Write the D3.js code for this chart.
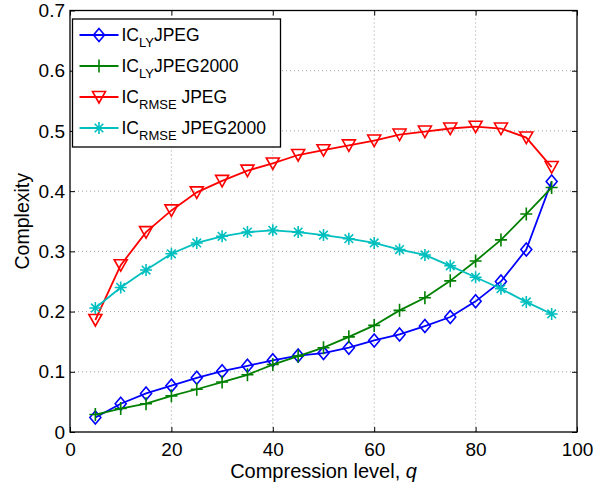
<!DOCTYPE html>
<html>
<head>
<meta charset="utf-8">
<script src="https://cdn.jsdelivr.net/npm/d3@7"></script>
<style>
  body { margin: 0; background: #fff; }
  text { font-family: "Liberation Sans", Arial, Helvetica, sans-serif; }
</style>
</head>
<body>
<svg id="chart" width="616" height="486"></svg>
<script>
// compression levels
const q = [5, 10, 15, 20, 25, 30, 35, 40, 45, 50, 55, 60, 65, 70, 75, 80, 85, 90, 95];
const lyJpeg = [0.024, 0.047, 0.064, 0.077, 0.090, 0.101, 0.110, 0.119, 0.127, 0.131, 0.140, 0.152, 0.162, 0.176, 0.191, 0.217, 0.250, 0.303, 0.416];
const lyJpeg2000 = [0.029, 0.039, 0.047, 0.060, 0.071, 0.083, 0.095, 0.112, 0.126, 0.140, 0.158, 0.177, 0.202, 0.223, 0.251, 0.284, 0.319, 0.362, 0.406];
const rmseJpeg = [0.186, 0.277, 0.332, 0.368, 0.398, 0.417, 0.434, 0.446, 0.460, 0.468, 0.476, 0.484, 0.494, 0.499, 0.504, 0.507, 0.504, 0.489, 0.440];
const rmseJpeg2000 = [0.206, 0.240, 0.269, 0.296, 0.314, 0.325, 0.332, 0.335, 0.332, 0.327, 0.321, 0.314, 0.303, 0.294, 0.276, 0.257, 0.238, 0.216, 0.196];

const xTicks = [0, 20, 40, 60, 80, 100];
const yTicks = [0, 0.1, 0.2, 0.3, 0.4, 0.5, 0.6, 0.7];

const seriesNames = [["IC", "LY", "JPEG"], ["IC", "LY", "JPEG2000"], ["IC", "RMSE", " JPEG"], ["IC", "RMSE", " JPEG2000"]];
const seriesColors = ["#0000ff", "#008000", "#ff0000", "#00bfbf"];
const seriesMarkers = ["diamond", "plus", "triangle", "star"];
const seriesValues = [lyJpeg, lyJpeg2000, rmseJpeg, rmseJpeg2000];

const svg = d3.select("svg#chart"),
  margin = { top: 10.5, right: 39, bottom: 54, left: 70 },
  width = +svg.attr("width") - margin.left - margin.right,
  height = +svg.attr("height") - margin.top - margin.bottom;

const g = svg.append("g").attr("transform", `translate(${margin.left}, ${margin.top})`);

const x = d3.scaleLinear().domain([0, 100]).range([0, width]);
const y = d3.scaleLinear().domain([0, 0.7]).range([height, 0]);

// dotted grid
g.append("g")
  .selectAll("line.gx")
  .data(xTicks.slice(1, -1))
  .join("line")
  .attr("x1", (d) => x(d)).attr("x2", (d) => x(d))
  .attr("y1", 0).attr("y2", height)
  .attr("stroke", "#a0a0a0").attr("stroke-width", 1)
  .attr("stroke-dasharray", "1,3");
g.append("g")
  .selectAll("line.gy")
  .data(yTicks.slice(1, -1))
  .join("line")
  .attr("x1", 0).attr("x2", width)
  .attr("y1", (d) => y(d)).attr("y2", (d) => y(d))
  .attr("stroke", "#a0a0a0").attr("stroke-width", 1)
  .attr("stroke-dasharray", "1,3");

// axes with inward ticks on all four sides
const tickLen = 5;
const styleAxis = (sel) => {
  sel.select(".domain").remove();
  sel.selectAll(".tick line").attr("stroke", "#000").attr("stroke-width", 1);
  sel.selectAll(".tick text")
    .attr("fill", "#000")
    .style("font-size", "19px");
};

g.append("g")
  .attr("transform", `translate(0, ${height})`)
  .call(d3.axisBottom(x).tickValues(xTicks).tickSize(-tickLen).tickPadding(11).tickFormat(d3.format("d")))
  .call(styleAxis);
g.append("g")
  .call(d3.axisLeft(y).tickValues(yTicks).tickSize(-tickLen).tickPadding(5).tickFormat((d) => d === 0 ? "0" : d3.format(".1f")(d)))
  .call(styleAxis);
g.append("g")
  .call(d3.axisTop(x).tickValues(xTicks).tickSize(-tickLen).tickFormat(""))
  .call(styleAxis);
g.append("g")
  .attr("transform", `translate(${width}, 0)`)
  .call(d3.axisRight(y).tickValues(yTicks).tickSize(-tickLen).tickFormat(""))
  .call(styleAxis);

g.append("rect")
  .attr("width", width).attr("height", height)
  .attr("fill", "none").attr("stroke", "#000").attr("stroke-width", 1.3);

// markers
const markerPath = {
  diamond: "M0,-6.5L5.5,0L0,6.5L-5.5,0Z",
  plus: "M-6,0H6M0,-6.5V6.5",
  triangle: "M-6.5,-5.5L6.5,-5.5L0,6Z",
  star: "M-6,0H6M0,-6V6M-4.3,-4.3L4.3,4.3M-4.3,4.3L4.3,-4.3",
};

const line = d3.line().x((d) => x(d[0])).y((d) => y(d[1]));

seriesValues.forEach((vals, i) => {
  const pts = q.map((qq, j) => [qq, vals[j]]);
  const s = g.append("g");
  s.append("path")
    .attr("d", line(pts))
    .attr("fill", "none")
    .attr("stroke", seriesColors[i])
    .attr("stroke-width", 1.8);
  s.selectAll("path.m")
    .data(pts)
    .join("path")
    .attr("class", "m")
    .attr("transform", (d) => `translate(${x(d[0])}, ${y(d[1])})`)
    .attr("d", markerPath[seriesMarkers[i]])
    .attr("fill", "none")
    .attr("stroke", seriesColors[i])
    .attr("stroke-width", 1.6);
});

// legend
const lg = svg.append("g").attr("transform", "translate(72.5, 19)");
lg.append("rect")
  .attr("width", 208).attr("height", 128)
  .attr("fill", "#fff").attr("stroke", "#000").attr("stroke-width", 1.3);

seriesNames.forEach((name, i) => {
  const cy = 16 + i * 31;
  const e = lg.append("g").attr("transform", `translate(0, ${cy})`);
  e.append("line")
    .attr("x1", 7).attr("x2", 46)
    .attr("stroke", seriesColors[i]).attr("stroke-width", 1.8);
  e.append("path")
    .attr("transform", "translate(26.5, 0)")
    .attr("d", markerPath[seriesMarkers[i]])
    .attr("fill", "none")
    .attr("stroke", seriesColors[i])
    .attr("stroke-width", 1.6);
  const t = e.append("text")
    .attr("x", 49).attr("y", 6)
    .style("font-size", "17.5px")
    .attr("fill", "#000");
  t.append("tspan").text(name[0]);
  t.append("tspan").attr("dy", 6).style("font-size", "13px").text(name[1]);
  t.append("tspan").attr("dy", -6).text(name[2]);
});

// axis titles
svg.append("text")
  .attr("x", margin.left + width / 2)
  .attr("y", 477.5)
  .attr("text-anchor", "middle")
  .style("font-size", "20px")
  .call((t) => {
    t.append("tspan").text("Compression level, ");
    t.append("tspan").style("font-style", "italic").text("q");
  });

svg.append("text")
  .attr("transform", `translate(29, ${margin.top + height / 2}) rotate(-90)`)
  .attr("text-anchor", "middle")
  .style("font-size", "19.5px")
  .text("Complexity");
</script>
</body>
</html>
